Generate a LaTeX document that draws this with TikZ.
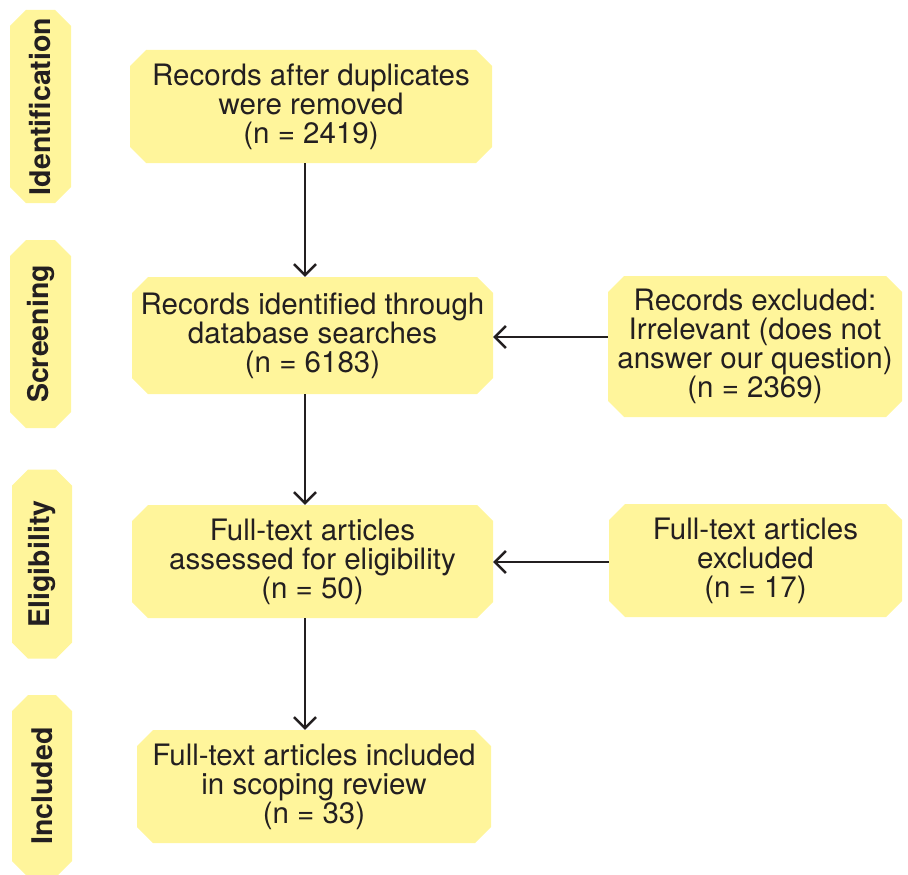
\documentclass[tikz,border=0pt]{standalone}
\usepackage{fontspec}
\setmainfont{TeX Gyre Heros}
\usetikzlibrary{shapes.misc,arrows.meta}
\definecolor{boxyellow}{RGB}{255,245,155}
\definecolor{inkgray}{RGB}{35,31,32}
\tikzset{
  box/.style={chamfered rectangle, chamfered rectangle xsep=8pt,
    chamfered rectangle ysep=8pt, fill=boxyellow, inner sep=0pt,
    align=center, text=inkgray, font=\fontsize{29.5}{29}\selectfont},
  stage/.style={box, rotate=90, font=\fontsize{28.5}{30}\selectfont\bfseries},
  arr/.style={draw=inkgray, line width=2.5pt, -{Straight Barb[length=11pt,width=22pt]}}
}
\begin{document}
\begin{tikzpicture}[x=1pt,y=-1pt]
   \useasboundingbox (0,0) rectangle (908,875);
   % stages on the left
   \node[stage, minimum width=193pt, minimum height=61pt] (ident) at (40.5,106.5) {Identification};
   \node[stage, minimum width=188pt, minimum height=61pt] (screen) at (40.5,334) {Screening};
   \node[stage, minimum width=189pt, minimum height=60pt] (elig) at (42,564) {Eligibility};
   \node[stage, minimum width=182pt, minimum height=60pt] (incl) at (42,786) {Included};
   % main flow
   \node[box, minimum width=362pt, minimum height=113pt] (dupl) at (311,106.5)
     {Records after duplicates\\were removed\\(n = 2419)};
   \node[box, minimum width=361pt, minimum height=117pt] (found) at (312.5,335.5)
     {Records identified through\\database searches\\(n = 6183)};
   \node[box, minimum width=361pt, minimum height=113pt] (assess) at (312.5,561.5)
     {Full-text articles\\assessed for eligibility\\(n = 50)};
   \node[box, minimum width=354pt, minimum height=113pt] (review) at (314,786.5)
     {Full-text articles included\\in scoping review\\(n = 33)};
   % exclusions
   \node[box, minimum width=294pt, minimum height=141pt] (excla) at (755,346.5)
     {Records excluded:\\Irrelevant (does not\\answer our question)\\(n = 2369)};
   \node[box, minimum width=293pt, minimum height=113pt] (exclb) at (755.5,560.5)
     {Full-text articles\\excluded\\(n = 17)};
   % connectors
   \coordinate (axis) at (305,0);
   \draw[arr] (dupl.south -| axis) -- (found.north -| axis);
   \draw[arr] (found.south -| axis) -- (assess.north -| axis);
   \draw[arr] (assess.south -| axis) -- (review.north -| axis);
   \draw[arr] (excla.west |- 0,337) -- (found.east |- 0,337);
   \draw[arr] (exclb.west |- 0,562) -- (assess.east |- 0,562);
\end{tikzpicture}
\end{document}
